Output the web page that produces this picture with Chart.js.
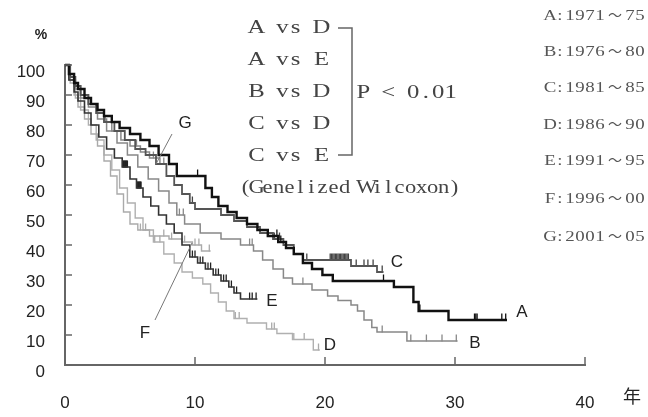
<!DOCTYPE html>
<html>
<head>
<meta charset="utf-8">
<script src="https://cdn.jsdelivr.net/npm/chart.js@4.4.1/dist/chart.umd.min.js"></script>
<style>
  html, body { margin: 0; padding: 0; background: #fff; }
</style>
</head>
<body>
<canvas id="c" width="648" height="417"></canvas>
<script>
// survival curves (years, %), step points: at time t the curve drops to S
const aT = [0, 0.3, 0.7, 1.0, 1.5, 2.0, 2.5, 3.0, 3.6, 4.2, 5.0, 5.8, 6.5, 7.2, 8.0, 8.6, 10.8, 11.3, 11.8, 12.5, 13.2, 14.0, 14.8, 15.6, 16.4, 17.0, 17.6, 18.3, 19.0, 19.8, 20.6, 25.3, 26.8, 27.2, 29.5, 34.0];
const aS = [100, 97, 94, 92, 89, 87, 85, 83, 81, 79, 77, 75, 73, 70, 67, 63, 59, 56, 53, 51, 49, 47, 45, 43, 41, 39, 37, 34, 32, 30, 28, 26, 21, 18, 15, 15];
const aCens = [10.2, 16.3, 16.6, 24.5, 27.3, 31.5, 31.6, 31.7, 33.6, 33.9];

const bT = [0, 0.4, 0.8, 1.2, 1.8, 2.5, 3.2, 4.0, 4.8, 5.6, 6.4, 7.2, 8.0, 8.6, 9.2, 10.4, 12.0, 13.5, 14.5, 15.2, 16.0, 16.8, 17.5, 19.0, 20.2, 21.0, 22.0, 22.5, 23.0, 23.6, 24.0, 26.3, 30.2];
const bS = [100, 95, 92, 89, 86, 82, 78, 74, 70, 66, 62, 58, 54, 50, 47, 44, 42, 40, 38, 35, 32, 29, 27, 25, 23, 21.5, 20, 18, 15, 12.5, 11, 8, 8];
const bCens = [8.8, 9.1, 14.2, 14.4, 18.3, 24.4, 26.6, 27.8, 29.0, 30.1];

const cT = [0, 0.4, 0.8, 1.2, 1.8, 2.4, 3.0, 3.8, 4.6, 5.4, 6.2, 7.0, 7.8, 8.4, 9.0, 9.6, 10.0, 12.0, 13.0, 14.0, 15.0, 16.0, 16.8, 17.6, 18.3, 22.0, 24.0, 24.5];
const cS = [100, 96, 93, 90, 87, 84, 81, 78, 75, 72, 70, 67, 63, 60, 57, 54, 52, 50, 48, 46, 44, 42, 40, 37, 35, 33, 31, 31];
const cCens = [9.8, 16.1, 16.5, 18.6, 20.4, 20.5, 20.6, 20.7, 20.8, 20.9, 21.0, 21.1, 21.2, 21.3, 21.4, 21.5, 21.6, 21.7, 21.8, 22.4, 23.0, 23.3, 23.7, 24.4];

const dT = [0, 0.4, 0.8, 1.2, 1.8, 2.4, 3.0, 3.6, 4.2, 4.8, 5.4, 6.0, 6.8, 7.6, 8.4, 9.0, 9.8, 10.6, 11.2, 11.8, 12.4, 13.0, 14.0, 15.5, 16.3, 17.5, 19.1, 19.6];
const dS = [100, 94, 89, 85, 80, 75, 70, 65, 59, 54, 49, 45, 41, 37, 34, 31, 29, 27, 24, 21, 18, 15.5, 14, 12, 10.5, 8.5, 5, 5];
const dCens = [6.9, 7.3, 13.1, 13.4, 15.9, 16.1, 17.6, 18.4, 19.5];

const eT = [0, 0.3, 0.7, 1.0, 1.5, 2.0, 2.6, 3.2, 3.8, 4.4, 5.0, 5.5, 6.0, 6.6, 7.2, 7.8, 8.4, 9.0, 9.6, 10.2, 10.8, 11.4, 12.0, 12.6, 13.0, 13.5, 14.8];
const eS = [100, 95, 91, 88, 84, 80, 76, 72, 69, 66, 62, 59, 56, 53, 50, 47, 44, 40, 36, 34, 32, 30, 28, 26, 24, 22, 22];
const eCens = [4.45, 4.5, 4.55, 4.6, 4.65, 4.7, 4.75, 4.8, 5.55, 5.6, 5.65, 5.7, 5.75, 5.8, 5.85, 9.8, 10.0, 10.4, 10.6, 11.0, 11.2, 11.6, 11.8, 12.2, 12.4, 12.8, 13.2, 14.2, 14.4, 14.7];

const fT = [0, 0.3, 0.7, 1.0, 1.5, 2.0, 2.5, 3.0, 3.5, 4.0, 4.5, 5.0, 5.6, 6.5, 8.0, 9.0, 9.8, 10.5, 11.2];
const fS = [100, 95, 90, 86, 82, 77, 73, 68, 63, 57, 51, 47, 45, 43, 42, 41, 40, 38, 38];
const fCens = [5.8, 6.2, 7.6, 8.2, 9.2, 10.0, 10.3, 11.1];

const gT = [0, 0.3, 0.7, 1.2, 1.8, 2.4, 3.0, 3.6, 4.3, 5.0, 5.8, 6.5, 7.3, 7.8];
const gS = [100, 96, 93, 90, 87, 84, 81, 78, 75, 73, 71, 69, 67, 67];
const gCens = [3.1, 5.5, 6.8, 7.6];

const compLines = ['A vs D', 'A vs E', 'B vs D', 'C vs D', 'C vs E'];
const pLabel = 'P < 0.01';
const testLabel = '(Genelized Wilcoxon)';
const periodLabels = ['A:1971～75', 'B:1976～80', 'C:1981～85', 'D:1986～90', 'E:1991～95', 'F:1996～00', 'G:2001～05'];

const AXIS = '#666';
const INK = '#222';

function survAt(ts, ss, t) {
  let s = ss[0];
  for (let i = 0; i < ts.length; i++) if (ts[i] <= t) s = ss[i];
  return s;
}

function curve(ts, ss, color, width) {
  return {
    data: ts.map((t, i) => ({ x: t, y: ss[i] })),
    borderColor: color,
    borderWidth: width,
    stepped: true,
    pointRadius: 0,
    fill: false,
    clip: false,
  };
}

function marks(ts, ss, cens, color) {
  return {
    data: cens.map((t) => ({ x: t, y: survAt(ts, ss, t) + 1 })),
    showLine: false,
    pointStyle: 'line',
    rotation: 90,
    pointRadius: 3.5,
    borderColor: color,
    borderWidth: 1.3,
    clip: false,
  };
}

// cell-based text with widened glyphs, mimics half-width mincho
function cells(ctx, str, x, y, cw, sx) {
  let i = 0;
  for (const ch of str) {
    const wide = ch.charCodeAt(0) > 0xff;
    const w = wide ? cw * 2 : cw;
    ctx.save();
    ctx.translate(x + i * cw + w / 2, y);
    ctx.scale(wide ? 1 : sx, 1);
    ctx.fillText(ch, 0, 0);
    ctx.restore();
    i += wide ? 2 : 1;
  }
}

const decor = {
  id: 'decor',
  afterDraw(chart) {
    const { ctx, scales: { x, y } } = chart;
    ctx.save();

    // inward ticks
    ctx.strokeStyle = AXIS;
    ctx.lineWidth = 1.5;
    y.ticks.forEach((tk) => {
      const py = y.getPixelForValue(tk.value);
      ctx.beginPath(); ctx.moveTo(x.left, py); ctx.lineTo(x.left + 7, py); ctx.stroke();
    });
    x.ticks.forEach((tk) => {
      if (tk.value === 0) return;
      const px = x.getPixelForValue(tk.value);
      ctx.beginPath(); ctx.moveTo(px, y.bottom); ctx.lineTo(px, y.bottom - 8); ctx.stroke();
    });

    // axis titles
    ctx.fillStyle = INK;
    ctx.textAlign = 'center';
    ctx.textBaseline = 'middle';
    ctx.font = 'bold 14px "Liberation Sans", Arial, sans-serif';
    ctx.fillText('%', 41, 35);
    ctx.font = '18px "Noto Sans CJK JP", sans-serif';
    ctx.fillText('年', 632, 396);

    // comparison block
    ctx.fillStyle = '#444';
    ctx.font = '19px "Liberation Serif", "DejaVu Serif", serif';
    compLines.forEach((s, i) => cells(ctx, s, 250, 28 + i * 32, 13, 1.3));
    cells(ctx, pLabel, 357, 93, 12.5, 1.3);
    ctx.font = '18px "Liberation Serif", "DejaVu Serif", serif';
    cells(ctx, testLabel, 240, 188, 11, 1.25);

    ctx.strokeStyle = '#666';
    ctx.lineWidth = 1.5;
    ctx.beginPath();
    ctx.moveTo(338, 28); ctx.lineTo(352, 28); ctx.lineTo(352, 155); ctx.lineTo(338, 155);
    ctx.stroke();

    // period legend
    ctx.fillStyle = '#555';
    ctx.font = '14px "Liberation Serif", "Noto Sans CJK JP", serif';
    const ly = [16, 52, 88, 125, 161, 199, 237];
    periodLabels.forEach((s, i) => cells(ctx, s, 545, ly[i], 10, 1.35));

    // curve labels + leaders
    ctx.fillStyle = INK;
    ctx.font = '17px "Liberation Sans", Arial, sans-serif';
    [['A', 522, 312], ['B', 475, 343], ['C', 397, 262], ['D', 330, 345],
     ['E', 272, 301], ['F', 145, 333], ['G', 185, 123]].forEach(([t, px, py]) => ctx.fillText(t, px, py));

    ctx.strokeStyle = '#777';
    ctx.lineWidth = 1;
    ctx.beginPath(); ctx.moveTo(172, 134); ctx.lineTo(156, 164); ctx.stroke();
    ctx.beginPath(); ctx.moveTo(155, 320); ctx.lineTo(192, 243); ctx.stroke();

    ctx.restore();
  },
};

new Chart(document.getElementById('c'), {
  type: 'line',
  data: {
    datasets: [
      curve(aT, aS, '#111', 2.4), marks(aT, aS, aCens, '#111'),
      curve(cT, cS, '#555', 1.8), marks(cT, cS, cCens, '#444'),
      curve(eT, eS, '#333', 1.6), marks(eT, eS, eCens, '#222'),
      curve(gT, gS, '#888', 1.5), marks(gT, gS, gCens, '#888'),
      curve(bT, bS, '#888', 1.5), marks(bT, bS, bCens, '#888'),
      curve(fT, fS, '#aaa', 1.4), marks(fT, fS, fCens, '#aaa'),
      curve(dT, dS, '#b0b0b0', 1.4), marks(dT, dS, dCens, '#aaa'),
    ],
  },
  options: {
    responsive: false,
    animation: false,
    layout: { padding: { left: 0, top: 65, right: 63, bottom: 0 } },
    plugins: { legend: { display: false }, tooltip: { enabled: false } },
    scales: {
      x: {
        type: 'linear',
        min: 0,
        max: 40,
        afterFit: (s) => { s.height = 52; },
        ticks: { stepSize: 10, padding: 28, color: INK, font: { family: '"Liberation Sans", Arial, sans-serif', size: 17 } },
        grid: { display: false, drawTicks: false },
        border: { color: AXIS, width: 2 },
      },
      y: {
        min: 0,
        max: 100,
        afterFit: (s) => { s.width = 65; },
        ticks: { stepSize: 10, padding: 20, labelOffset: 7, color: INK, font: { family: '"Liberation Sans", Arial, sans-serif', size: 17 } },
        grid: { display: false, drawTicks: false },
        border: { color: AXIS, width: 2 },
      },
    },
  },
  plugins: [decor],
});
</script>
</body>
</html>
